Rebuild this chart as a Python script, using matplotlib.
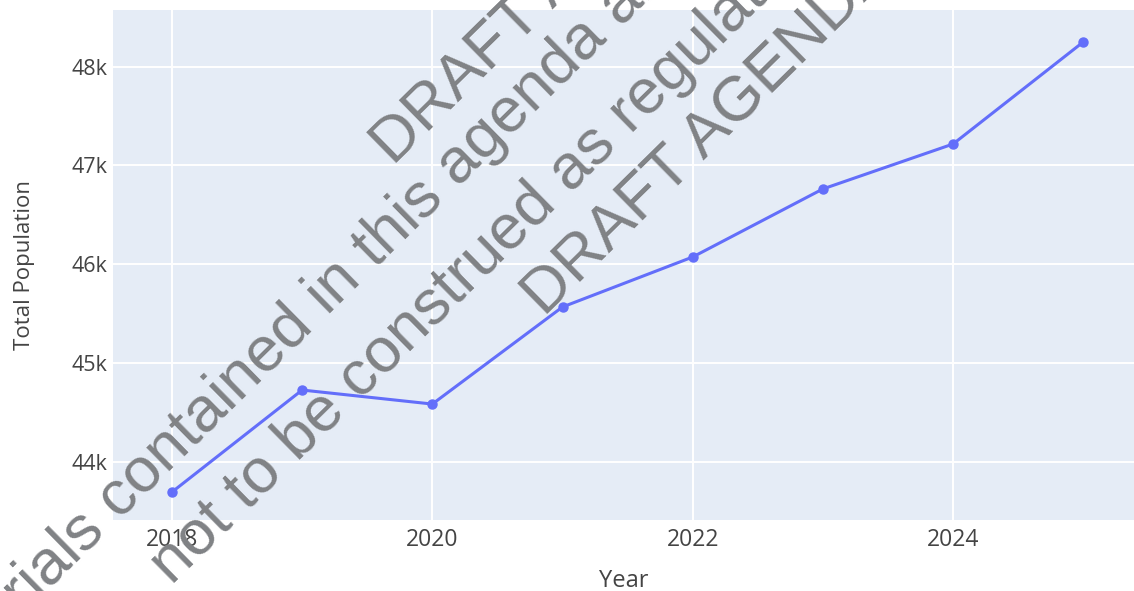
import numpy as np
import matplotlib.pyplot as plt


years = [2018, 2019, 2020, 2021, 2022, 2023, 2024, 2025]
population = [43693, 44726, 44584, 45567, 46073, 46762, 47217, 48250]

x_ticks = [2018, 2020, 2022, 2024]
y_ticks = [44000, 45000, 46000, 47000, 48000]
y_tick_labels = ["44k", "45k", "46k", "47k", "48k"]

watermark_lines = [
    "DRAFT AGENDA",
    "Materials contained in this agenda are",
    "not to be construed as regulations",
    "DRAFT AGENDA",
]
# baseline start of each watermark line, in pixels from top-left
watermark_starts = [(394, 167), (-76, 713), (172, 586), (545, 318)]

W, H = 1134, 591


def main():
    fig = plt.figure(figsize=(W / 100, H / 100), dpi=100)
    ax = fig.add_axes([113 / W, 1 - 520 / H, (1134 - 113) / W, (520 - 10) / H])
    ax.set_facecolor("#E5ECF6")

    ax.plot(years, population, color="#636EFA", linewidth=2.2,
            marker="o", markersize=6.5, zorder=3)

    ax.set_xlim(2017.547, 2025.39)
    ax.set_ylim(43410, 48574)
    ax.set_xticks(x_ticks)
    ax.set_xticklabels([str(t) for t in x_ticks])
    ax.set_yticks(y_ticks)
    ax.set_yticklabels(y_tick_labels)

    ax.grid(True, color="white", linewidth=1.4)
    ax.set_axisbelow(True)
    for s in ax.spines.values():
        s.set_visible(False)
    ax.tick_params(length=0, colors="#444444", pad=4)
    ax.tick_params(axis="y", labelsize=15.5)
    ax.tick_params(axis="x", labelsize=16.5, pad=6)
    for lab in ax.get_xticklabels() + ax.get_yticklabels():
        lab.set_fontfamily("Open Sans")

    ax.set_xlabel("Year", fontsize=17, color="#444444", family="Open Sans", labelpad=12)
    ax.set_ylabel("Total Population", fontsize=16, color="#444444", family="Open Sans", labelpad=26)

    for text, (px, py) in zip(watermark_lines, watermark_starts):
        fig.text(px / W, 1 - py / H, text, rotation=44.5, rotation_mode="anchor",
                 ha="left", va="baseline", fontsize=45.5, family="Liberation Sans",
                 color="#808285", zorder=10)

    fig.savefig("out.png", dpi=100, facecolor="white")


if __name__ == '__main__':
    main()
